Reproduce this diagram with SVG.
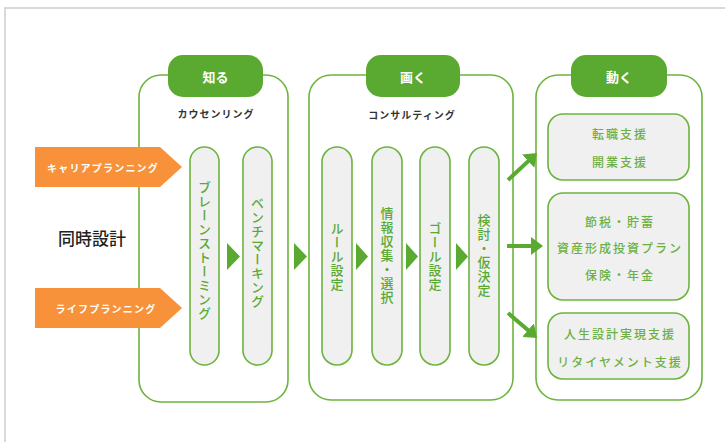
<svg xmlns="http://www.w3.org/2000/svg" width="725" height="442" viewBox="0 0 725 442">
<defs>
<style>
.jp{font-family:"Noto Sans CJK JP","Noto Sans",sans-serif}
.frame{fill:none;stroke:#d9d9d9;stroke-width:2}
.cont{fill:#fff;stroke:#6cb43f;stroke-width:1.6}
.tab{fill:#5aaa32}
.tabt{fill:#fff;font-size:13px;font-weight:700;text-anchor:middle;dominant-baseline:central}
.sub{fill:#333;font-size:10px;font-weight:700;text-anchor:middle;dominant-baseline:central;letter-spacing:1px}
.orange{fill:#f7923a}
.ot{fill:#fff;font-size:10px;font-weight:700;text-anchor:middle;dominant-baseline:central;letter-spacing:1.2px}
.pill{fill:#f0f0f0;stroke:#6cb43f;stroke-width:1.6}
.vt{fill:#5aaa32;font-size:13px;font-weight:500;writing-mode:vertical-rl;text-anchor:start;letter-spacing:1px}
.box{fill:#f0f0f0;stroke:#6cb43f;stroke-width:1.6}
.bt{fill:#6cb043;font-size:12px;font-weight:500;text-anchor:middle;dominant-baseline:central;letter-spacing:2px}
.tri{fill:#5aaa32}
.arr{stroke:#5aaa32;stroke-width:4;fill:none}
.big{fill:#222;font-size:17px;font-weight:500;text-anchor:middle;dominant-baseline:central}
</style>
<marker id="ah" markerUnits="userSpaceOnUse" viewBox="0 0 12 18" markerWidth="12" markerHeight="18" refX="6" refY="9" orient="auto">
<path d="M0,0 L12,9 L0,18 z" fill="#5aaa32"/>
</marker>
</defs>
<rect class="frame" x="5" y="8" width="800" height="500"/>

<g id="c1">
<rect class="cont" x="139" y="75" width="149" height="327" rx="22"/>
<rect class="tab" x="168" y="55" width="95" height="42" rx="15"/>
<text class="jp tabt" x="215.5" y="76">知る</text>
<text class="jp sub" x="216" y="113">カウセンリング</text>
</g>
<g id="c2">
<rect class="cont" x="309" y="75" width="204" height="325" rx="22"/>
<rect class="tab" x="366" y="55" width="94" height="42" rx="15"/>
<text class="jp tabt" x="413" y="76">画く</text>
<text class="jp sub" x="412" y="114">コンサルティング</text>
</g>
<g id="c3">
<rect class="cont" x="536" y="75" width="166" height="325" rx="22"/>
<rect class="tab" x="571" y="55" width="96" height="42" rx="15"/>
<text class="jp tabt" x="619" y="76">動く</text>
</g>

<g id="career">
<polygon class="orange" points="35,147 160,147 182,167 160,187 35,187"/>
<text class="jp ot" x="103" y="167">キャリアプランニング</text>
</g>
<g id="life">
<polygon class="orange" points="35,288 160,288 182,308 160,328 35,328"/>
<text class="jp ot" x="106" y="308">ライフプランニング</text>
</g>
<g id="sync">
<text class="jp big" x="92" y="237">同時設計</text>
</g>

<g id="p1"><rect class="pill" x="190" y="147" width="29" height="218" rx="14.5"/><text class="jp vt" x="204.5" y="181">ブレーンストーミング</text></g>
<g id="p2"><rect class="pill" x="243" y="147" width="29" height="218" rx="14.5"/><text class="jp vt" x="257.5" y="197">ベンチマーキング</text></g>
<g id="p3"><rect class="pill" x="322" y="147" width="30" height="218" rx="15"/><text class="jp vt" x="337" y="222">ルール設定</text></g>
<g id="p4"><rect class="pill" x="372" y="147" width="30" height="218" rx="15"/><text class="jp vt" x="387" y="207">情報収集・選択</text></g>
<g id="p5"><rect class="pill" x="420" y="147" width="30" height="218" rx="15"/><text class="jp vt" x="435" y="222">ゴール設定</text></g>
<g id="p6"><rect class="pill" x="469" y="147" width="30" height="218" rx="15"/><text class="jp vt" x="484" y="214">検討・仮決定</text></g>

<g id="b1"><rect class="box" x="548" y="114" width="141" height="66" rx="15"/>
<text class="jp bt" x="620" y="133">転職支援</text><text class="jp bt" x="620" y="161">開業支援</text></g>
<g id="b2"><rect class="box" x="548" y="193" width="141" height="107" rx="15"/>
<text class="jp bt" x="620" y="221">節税・貯蓄</text><text class="jp bt" x="620" y="247">資産形成投資プラン</text><text class="jp bt" x="620" y="274">保険・年金</text></g>
<g id="b3"><rect class="box" x="548" y="313" width="141" height="66" rx="15"/>
<text class="jp bt" x="620" y="333">人生設計実現支援</text><text class="jp bt" x="620" y="361">リタイヤメント支援</text></g>

<g id="connectors">
<polygon class="tri" points="227,243 240,256.5 227,270"/>
<polygon class="tri" points="294,243 307,256.5 294,270"/>
<polygon class="tri" points="356,243 368,256.5 356,270"/>
<polygon class="tri" points="406,243 418,256.5 406,270"/>
<polygon class="tri" points="456,243 468,256.5 456,270"/>
<line class="arr" x1="508" y1="180" x2="532.6" y2="157.1" marker-end="url(#ah)"/>
<line class="arr" x1="507" y1="246" x2="537" y2="246" marker-end="url(#ah)"/>
<line class="arr" x1="508" y1="313" x2="532.5" y2="334.1" marker-end="url(#ah)"/>
</g>
</svg>
